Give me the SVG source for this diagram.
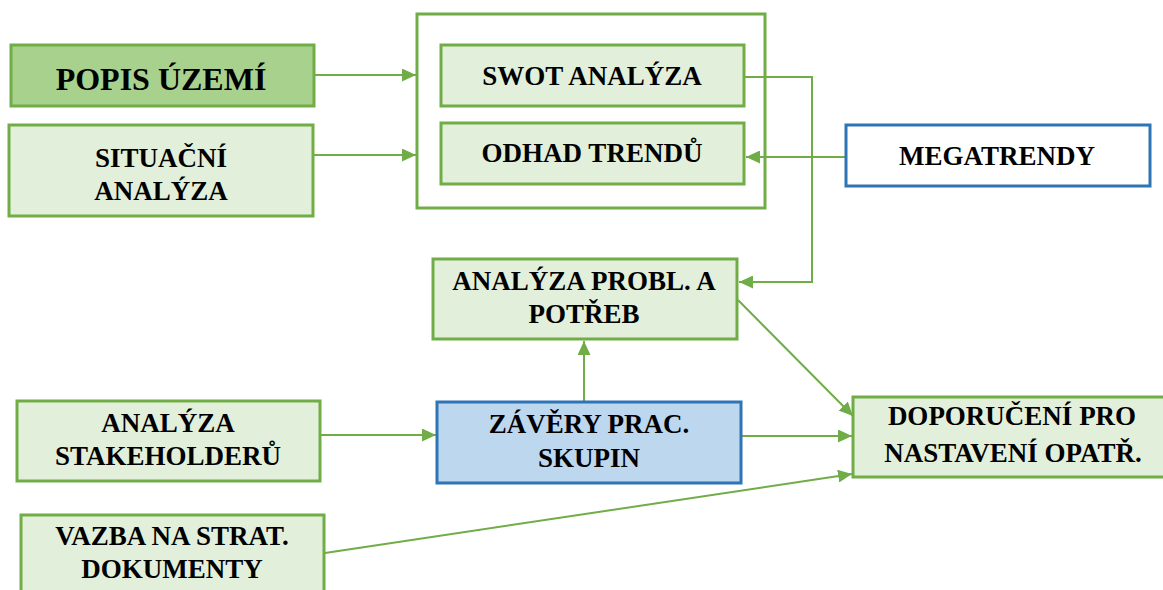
<svg xmlns="http://www.w3.org/2000/svg" width="1163" height="590" viewBox="0 0 1163 590">
  <style>
    .box { stroke: #70ad47; stroke-width: 3; fill: #e2efda; }
    .dark { fill: #a9d18e; }
    .blue { stroke: #2e75b6; }
    .white { fill: #ffffff; }
    .lbl { font-family: "Liberation Serif", "DejaVu Serif", serif; font-weight: bold; font-size: 27px; fill: #000; text-anchor: middle; }
    .big { font-size: 32px; }
    .conn { stroke: #70ad47; stroke-width: 2; fill: none; }
  </style>
  <defs>
    <marker id="arrow" viewBox="0 0 10 10" refX="10" refY="5" markerWidth="7" markerHeight="6.5" markerUnits="strokeWidth" orient="auto" preserveAspectRatio="none">
      <path d="M0,0 L10,5 L0,10 Z" fill="#70ad47"/>
    </marker>
  </defs>
  <rect width="1163" height="590" fill="#ffffff"/>

  <!-- outer frame around the SWOT / trend boxes -->
  <g id="container">
    <rect class="box white" x="417" y="14" width="348" height="194"/>
  </g>

  <!-- connectors -->
  <g id="connectors">
    <line class="conn" x1="314" y1="75" x2="416" y2="75" marker-end="url(#arrow)"/>
    <line class="conn" x1="313" y1="155" x2="416" y2="155" marker-end="url(#arrow)"/>
    <polyline class="conn" points="745,77 812,77 812,282 739,282" marker-end="url(#arrow)"/>
    <line class="conn" x1="846" y1="157" x2="746" y2="157" marker-end="url(#arrow)"/>
    <line class="conn" x1="584" y1="402" x2="584" y2="341" marker-end="url(#arrow)"/>
    <line class="conn" x1="738" y1="300" x2="853" y2="416" marker-end="url(#arrow)"/>
    <line class="conn" x1="742" y1="436" x2="852" y2="436" marker-end="url(#arrow)"/>
    <line class="conn" x1="321" y1="435" x2="436" y2="435" marker-end="url(#arrow)"/>
    <line class="conn" x1="325" y1="553" x2="852" y2="474" marker-end="url(#arrow)"/>
  </g>

  <g id="popis-uzemi">
    <rect class="box dark" x="11" y="45" width="303" height="61"/>
    <text class="lbl big" x="161" y="90">POPIS ÚZEMÍ</text>
  </g>

  <g id="situacni-analyza">
    <rect class="box" x="9" y="125" width="304" height="91"/>
    <text class="lbl" x="161" y="167">SITUAČNÍ</text>
    <text class="lbl" x="161" y="200">ANALÝZA</text>
  </g>

  <g id="swot">
    <rect class="box" x="441" y="45" width="303" height="61"/>
    <text class="lbl" x="592" y="85">SWOT ANALÝZA</text>
  </g>

  <g id="odhad-trendu">
    <rect class="box" x="441" y="123" width="303" height="61"/>
    <text class="lbl" x="592" y="162">ODHAD TRENDŮ</text>
  </g>

  <g id="megatrendy">
    <rect class="box blue white" x="846" y="125" width="304" height="61"/>
    <text class="lbl" x="997" y="165">MEGATRENDY</text>
  </g>

  <g id="analyza-problemu">
    <rect class="box" x="433" y="259" width="304" height="80"/>
    <text class="lbl" x="584" y="290">ANALÝZA PROBL. A</text>
    <text class="lbl" x="584" y="323">POTŘEB</text>
  </g>

  <g id="zavery">
    <rect class="box blue" x="437" y="402" width="304" height="81" style="fill:#bdd7ee"/>
    <text class="lbl" x="589" y="433">ZÁVĚRY PRAC.</text>
    <text class="lbl" x="589" y="467">SKUPIN</text>
  </g>

  <g id="doporuceni">
    <rect class="box" x="853" y="397" width="312" height="80"/>
    <text class="lbl" x="1012" y="425">DOPORUČENÍ PRO</text>
    <text class="lbl" x="1013" y="462">NASTAVENÍ OPATŘ.</text>
  </g>

  <g id="stakeholderi">
    <rect class="box" x="17" y="401" width="303" height="80"/>
    <text class="lbl" x="168" y="432">ANALÝZA</text>
    <text class="lbl" x="168" y="465">STAKEHOLDERŮ</text>
  </g>

  <g id="vazba">
    <rect class="box" x="21" y="515" width="303" height="90"/>
    <text class="lbl" x="172" y="545">VAZBA NA STRAT.</text>
    <text class="lbl" x="172" y="578">DOKUMENTY</text>
  </g>
</svg>
